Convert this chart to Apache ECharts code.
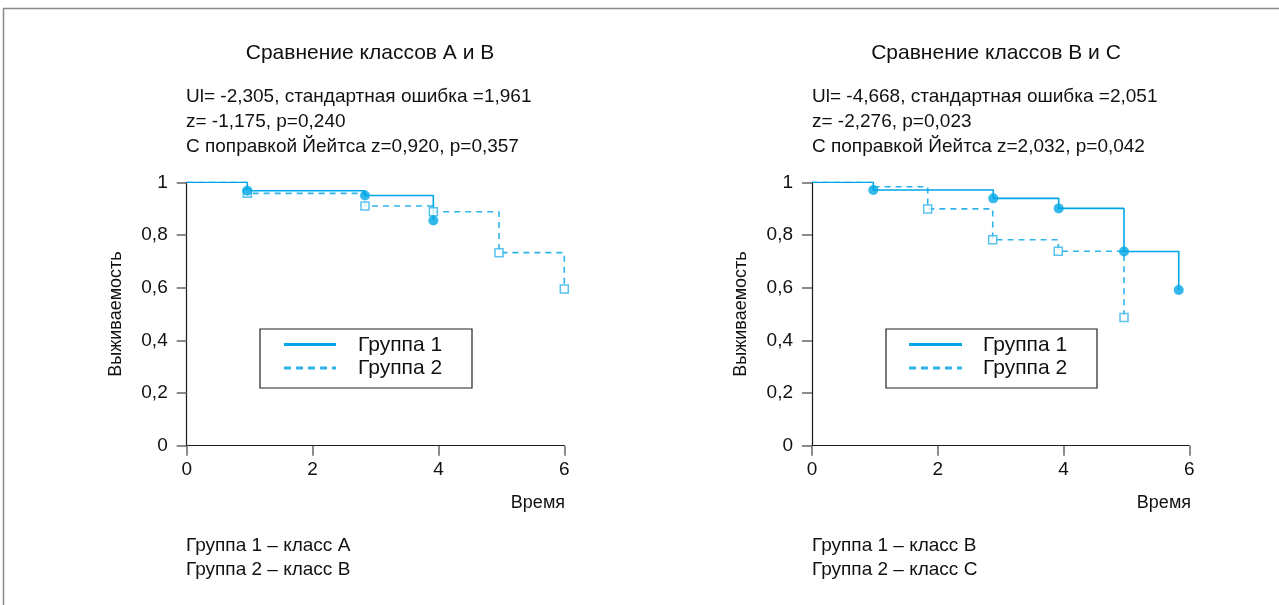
<!DOCTYPE html>
<html>
<head>
<meta charset="utf-8">
<script src="https://cdn.jsdelivr.net/npm/echarts@6/dist/echarts.min.js"></script>
<style>
html,body{margin:0;padding:0;background:#fff;}
#c{width:1279px;height:605px;}
</style>
</head>
<body>
<div id="c"></div>
<script>
// ---------- data ----------
const titles = ['Сравнение классов A и B', 'Сравнение классов B и C'];
const statsA = ['Ul= -2,305, стандартная ошибка =1,961', 'z= -1,175, p=0,240', 'С поправкой Йейтса z=0,920, p=0,357'];
const statsB = ['Ul= -4,668, стандартная ошибка =2,051', 'z= -2,276, p=0,023', 'С поправкой Йейтса z=2,032, p=0,042'];
const notesA = ['Группа 1 – класс A', 'Группа 2 – класс B'];
const notesB = ['Группа 1 – класс B', 'Группа 2 – класс C'];
const seriesNames = ['Группа 1', 'Группа 2'];
const yAxisName = 'Выживаемость';
const xAxisName = 'Время';
const xTicks = [0, 2, 4, 6];
const yTickLabels = ['0', '0,2', '0,4', '0,6', '0,8', '1'];

// Panel A (classes A & B): event times, survival after each event, marker shown
const a1Time = [0.963, 2.833, 3.919];
const a1Surv = [0.968, 0.950, 0.855];
const a1Mark = [1, 1, 1];
const a2Time = [0.963, 2.833, 3.919, 4.963, 6.0];
const a2Surv = [0.958, 0.910, 0.888, 0.733, 0.595];
const a2Mark = [1, 1, 1, 1, 1];

// Panel B (classes B & C)
const b1Time = [0.975, 2.883, 3.923, 4.962, 5.832];
const b1Surv = [0.971, 0.939, 0.901, 0.737, 0.591];
const b1Mark = [1, 1, 1, 1, 1];
const b2Time = [0.975, 1.840, 2.874, 3.917, 4.962];
const b2Surv = [0.983, 0.899, 0.782, 0.738, 0.487];
const b2Mark = [0, 1, 1, 1, 1];

// ---------- helpers ----------
function stepPath(t, s) {
  const pts = [[0, 1]];
  let prev = 1;
  for (let i = 0; i < t.length; i++) {
    pts.push([t[i], prev]);
    pts.push([t[i], s[i]]);
    prev = s[i];
  }
  return pts;
}
function markPts(t, s, m) {
  const pts = [];
  for (let i = 0; i < t.length; i++) if (m[i]) pts.push([t[i], s[i]]);
  return pts;
}

const FONT = '"Liberation Sans", Arial, Helvetica, sans-serif';
const C1 = '#00a7e6';
const C2 = '#2fb4ea';
const AX = '#1a1a1a';

const grids = [
  {left: 186.7, top: 182.3, width: 377.6, height: 263.4},
  {left: 812, top: 182.3, width: 377.3, height: 263.4}
];

function xAx(i) {
  return {
    type: 'value', gridIndex: i, min: 0, max: 6, interval: 2,
    axisLine: {lineStyle: {color: AX, width: 1.2}},
    axisTick: {length: 10, lineStyle: {color: '#666', width: 1.5}},
    axisLabel: {margin: 15, color: '#111', fontSize: 19, fontFamily: FONT,
      formatter: v => String(v)},
    splitLine: {show: false}
  };
}
function yAx(i) {
  return {
    type: 'value', gridIndex: i, min: 0, max: 1, interval: 0.2,
    axisLine: {show: true, lineStyle: {color: AX, width: 1.2}},
    axisTick: {show: true, length: 10, lineStyle: {color: '#666', width: 1.5}},
    axisLabel: {margin: 19, color: '#111', fontSize: 19, fontFamily: FONT,
      formatter: v => yTickLabels[Math.round(v * 5)]},
    splitLine: {show: false},
    name: yAxisName, nameLocation: 'middle', nameGap: 62, nameRotate: 90,
    nameTextStyle: {color: '#111', fontSize: 18, fontFamily: FONT}
  };
}

function lineS(name, i, t, s, dashed) {
  return {
    type: 'line', name: name, xAxisIndex: i, yAxisIndex: i,
    data: stepPath(t, s), showSymbol: false, symbol: 'none', silent: true,
    lineStyle: {color: dashed ? C2 : C1, width: 1.6, type: dashed ? [6, 5] : 'solid'},
    z: dashed ? 2 : 3, animation: false
  };
}
function dotS(name, i, t, s, m) {
  return {
    type: 'scatter', name: name, xAxisIndex: i, yAxisIndex: i,
    data: markPts(t, s, m), symbol: 'circle', symbolSize: 10,
    itemStyle: {color: C1}, z: 5, animation: false, silent: true
  };
}
function sqS(name, i, t, s, m) {
  return {
    type: 'scatter', name: name, xAxisIndex: i, yAxisIndex: i,
    data: markPts(t, s, m), symbol: 'rect', symbolSize: 8,
    itemStyle: {color: '#fff', borderColor: C2, borderWidth: 1.5}, z: 4, animation: false, silent: true
  };
}

function txt(x, y, s, size, align) {
  return {type: 'text', x: x, y: y, silent: true,
    style: {text: s, fill: '#111', font: size + 'px ' + FONT, textAlign: align || 'left', textVerticalAlign: 'middle'}};
}

function legendBox(x, y, w, h, lx1, lx2, tx) {
  return [
    {type: 'rect', shape: {x: x, y: y, width: w, height: h}, style: {fill: '#fff', stroke: '#222', lineWidth: 1.2}, z: 10},
    {type: 'line', shape: {x1: lx1, y1: y + 15.5, x2: lx2, y2: y + 15.5}, style: {stroke: C1, lineWidth: 3}, z: 11},
    {type: 'line', shape: {x1: lx1, y1: y + 39, x2: lx2, y2: y + 39}, style: {stroke: C2, lineWidth: 3, lineDash: [7, 5]}, z: 11},
    Object.assign(txt(tx, y + 16, seriesNames[0], 21), {z: 11}),
    Object.assign(txt(tx, y + 39.5, seriesNames[1], 21), {z: 11})
  ];
}

const graphic = [
  {type: 'line', shape: {x1: 3, y1: 8.5, x2: 1279, y2: 8.5}, style: {stroke: '#8a8a8a', lineWidth: 1.5}},
  {type: 'line', shape: {x1: 3.5, y1: 8, x2: 3.5, y2: 605}, style: {stroke: '#8a8a8a', lineWidth: 1.5}},
  txt(370, 53, titles[0], 21, 'center'),
  txt(996, 53, titles[1], 21, 'center'),
  txt(186, 96.5, statsA[0], 19), txt(186, 122, statsA[1], 19), txt(186, 146.5, statsA[2], 19),
  txt(812, 96.5, statsB[0], 19), txt(812, 122, statsB[1], 19), txt(812, 146.5, statsB[2], 19),
  txt(565, 503, xAxisName, 18, 'right'),
  txt(1191, 503, xAxisName, 18, 'right'),
  txt(186, 546, notesA[0], 19), txt(186, 569.5, notesA[1], 19),
  txt(812, 546, notesB[0], 19), txt(812, 569.5, notesB[1], 19)
].concat(
  legendBox(260, 329, 212, 59, 284, 336, 358),
  legendBox(886, 329, 211, 59, 909, 962, 983)
);

const option = {
  backgroundColor: '#fff',
  animation: false,
  grid: grids,
  xAxis: [xAx(0), xAx(1)],
  yAxis: [yAx(0), yAx(1)],
  series: [
    lineS(seriesNames[1], 0, a2Time, a2Surv, true),
    lineS(seriesNames[0], 0, a1Time, a1Surv, false),
    sqS(seriesNames[1], 0, a2Time, a2Surv, a2Mark),
    dotS(seriesNames[0], 0, a1Time, a1Surv, a1Mark),
    lineS(seriesNames[1], 1, b2Time, b2Surv, true),
    lineS(seriesNames[0], 1, b1Time, b1Surv, false),
    sqS(seriesNames[1], 1, b2Time, b2Surv, b2Mark),
    dotS(seriesNames[0], 1, b1Time, b1Surv, b1Mark)
  ],
  graphic: graphic
};

const chart = echarts.init(document.getElementById('c'), null, {renderer: 'canvas'});
chart.setOption(option);
</script>
</body>
</html>
